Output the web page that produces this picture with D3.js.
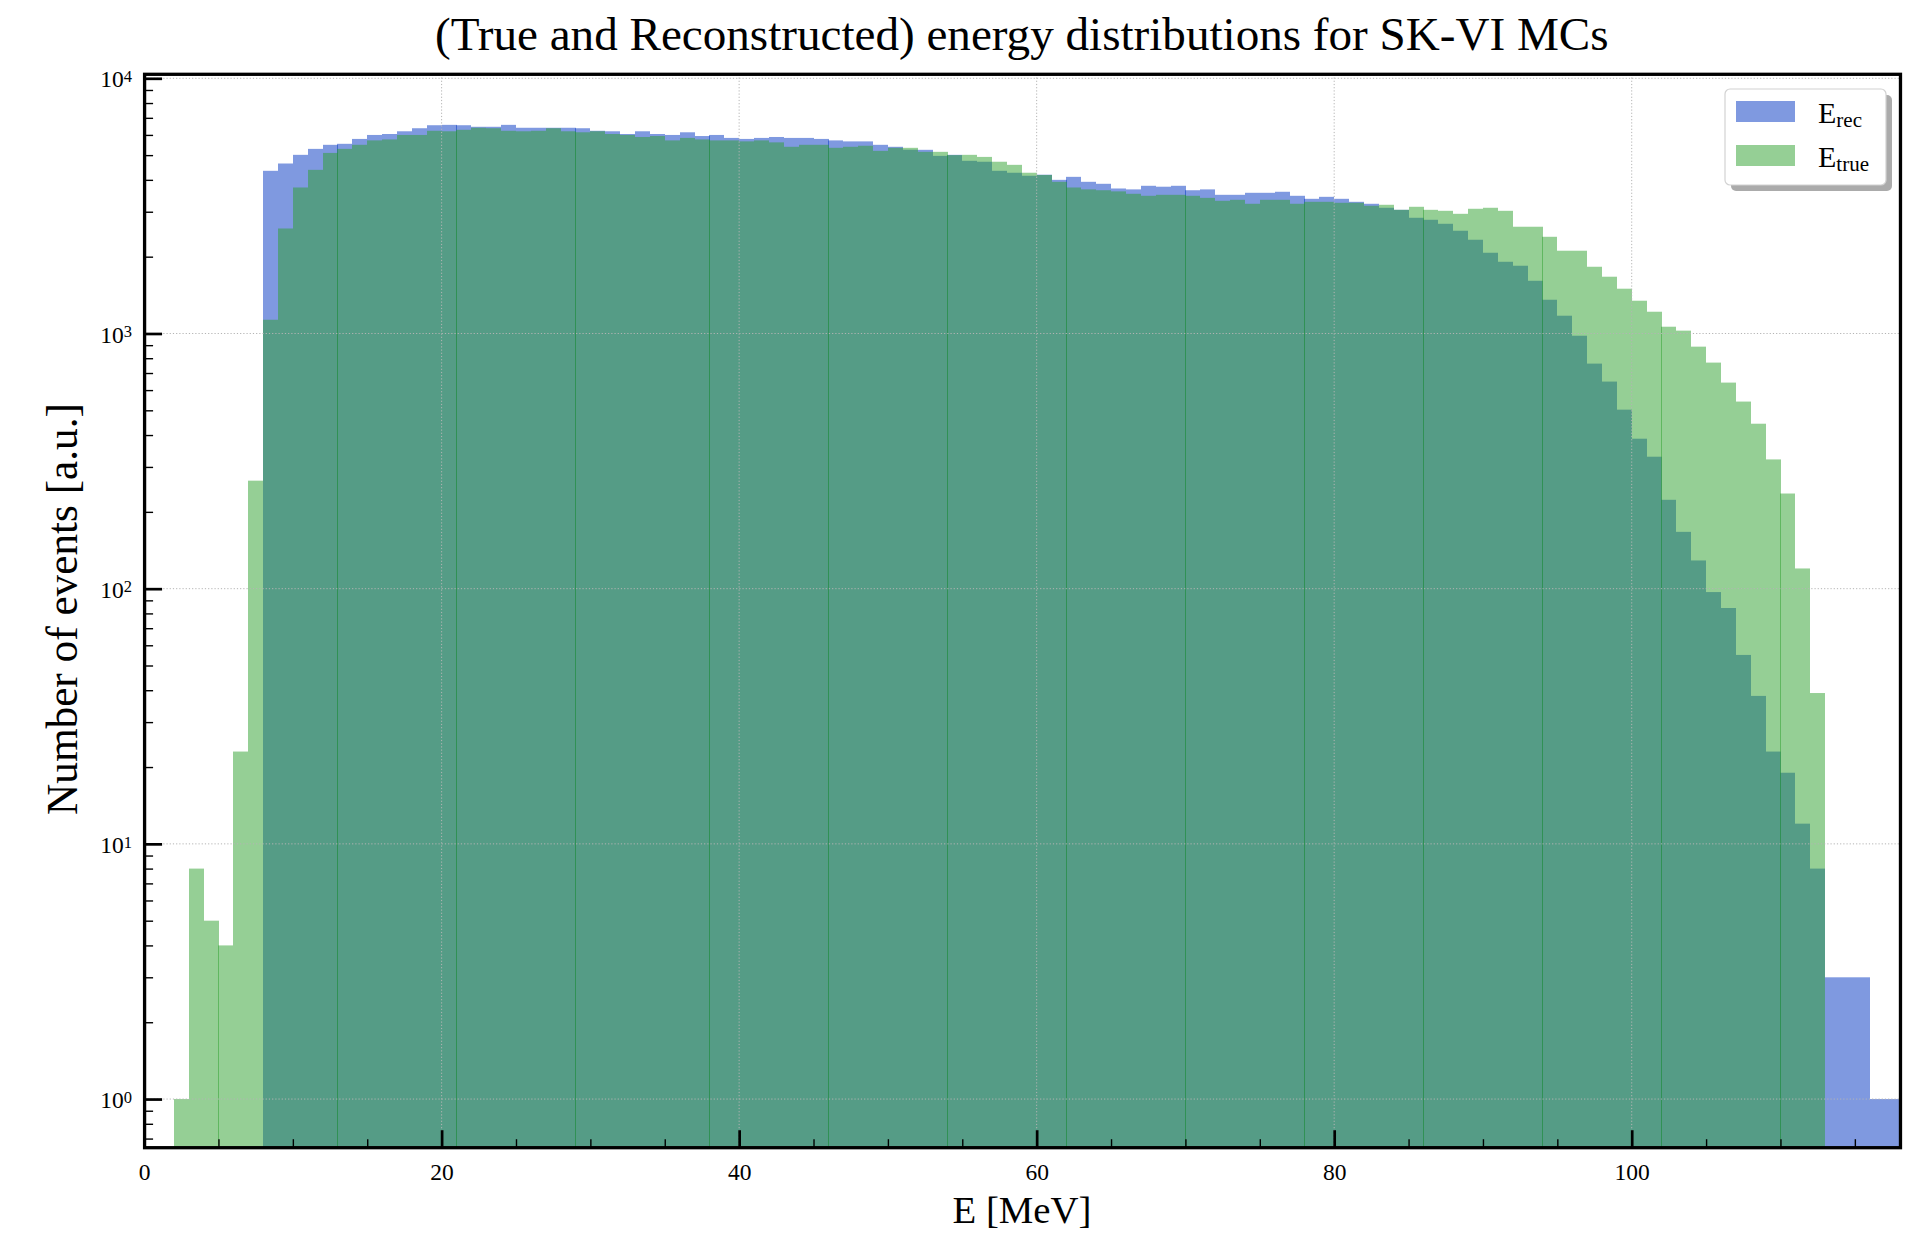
<!DOCTYPE html>
<html>
<head>
<meta charset="utf-8">
<script src="https://cdn.jsdelivr.net/npm/d3@7"></script>
<style>
  html, body { margin: 0; padding: 0; background: #ffffff; }
  svg { display: block; }
  text { font-family: "Liberation Serif", "Times New Roman", "DejaVu Serif", serif; fill: #000; }
</style>
</head>
<body>
<svg id="chart" width="1916" height="1234"></svg>
<script>
// ---- Data: event counts per 1 MeV bin ----
// E_true histogram, first bin starts at 2 MeV
const trueStart = 2;
const trueCounts = [
  1, 8, 5, 4, 23, 265,                                   // 2-7
  1132, 2579, 3733, 4378, 5100, 5290, 5487, 5710, 5760, 5998, // 8-17
  5998, 6227, 6200, 6283, 6400, 6373, 6227, 6200, 6227, 6373, // 18-27
  6200, 6144, 6200, 6050, 5998, 5889, 5940, 5710, 5840, 5760, // 28-37
  5710, 5710, 5660, 5710, 5610, 5390, 5487, 5487, 5340, 5390, // 38-47
  5440, 5196, 5340, 5340, 5150, 5150, 5000, 5013, 4920, 4710, // 48-57
  4580, 4265, 4180, 3930, 3733, 3670, 3642, 3605, 3527, 3464, // 58-67
  3495, 3495, 3464, 3400, 3311, 3341, 3223, 3341, 3341, 3223, // 68-77
  3281, 3281, 3252, 3252, 3166, 3194, 3052, 3137, 3052, 3025, // 78-87
  2944, 3081, 3109, 3025, 2620, 2620, 2393, 2110, 2110, 1826, // 88-97
  1669, 1498, 1344, 1217, 1063, 1026, 888, 769, 642, 541,     // 98-107
  443, 321, 236, 120, 39                                       // 108-112
];

// E_rec histogram, first bin starts at 8 MeV
const recStart = 8;
const recCounts = [
  4340, 4636, 5013, 5290, 5487, 5537, 5787, 5998, 6050, 6200, // 8-17
  6373, 6548, 6570, 6548, 6457, 6457, 6570, 6400, 6400, 6400, // 18-27
  6400, 6373, 6227, 6200, 6050, 6200, 6050, 5998, 6144, 5940, // 28-37
  5998, 5840, 5787, 5840, 5889, 5840, 5840, 5787, 5710, 5660, // 38-47
  5660, 5487, 5390, 5250, 5245, 4966, 5013, 4750, 4710, 4340, // 48-57
  4265, 4150, 4190, 4000, 4110, 3930, 3860, 3700, 3670, 3791, // 58-67
  3760, 3791, 3642, 3670, 3495, 3495, 3559, 3559, 3592, 3464, // 68-77
  3371, 3432, 3371, 3281, 3223, 3109, 3052, 2841, 2790, 2691, // 78-87
  2527, 2330, 2072, 1910, 1843, 1609, 1356, 1174, 980, 762,   // 88-97
  648, 503, 387, 329, 223, 167, 129, 97, 84, 55,              // 98-107
  38, 23, 19, 12, 8, 3, 3, 3, 1, 1                             // 108-117
];

const binWidth = 1;
const xDomain = [0, 118];
const yDomain = [0.6447, 10368];
const xMajorTicks = [0, 20, 40, 60, 80, 100];
const xMinorStep = 5;
const yMajorTicks = [1, 10, 100, 1000, 10000];
const yTickExponents = ["0", "1", "2", "3", "4"];

const titleText = "(True and Reconstructed) energy distributions for SK-VI MCs";
const xLabelText = "E [MeV]";
const yLabelText = "Number of events [a.u.]";
const legendEntries = [
  { base: "E", sub: "rec",  color: "rgb(0,51,194)" },
  { base: "E", sub: "true", color: "rgb(44,160,44)" }
];

// ---- Layout ----
const plot = { left: 144.085, right: 1899.48, top: 74.3, bottom: 1147.7 };
const svg = d3.select("#chart");

const x = d3.scaleLinear().domain(xDomain).range([plot.left, plot.right]);
const y = d3.scaleLog().domain(yDomain).range([plot.bottom, plot.top]);

svg.append("defs").append("clipPath").attr("id", "plotClip")
  .append("rect")
  .attr("x", plot.left).attr("y", plot.top)
  .attr("width", plot.right - plot.left).attr("height", plot.bottom - plot.top);

// ---- Histogram bars (pixel-snapped, semi-transparent) ----
function histBins(start, counts) {
  return counts.map((c, i) => ({ lo: start + i * binWidth, hi: start + (i + 1) * binWidth, c }));
}

function drawHist(start, counts, color) {
  svg.append("g").attr("clip-path", "url(#plotClip)")
    .selectAll("rect")
    .data(histBins(start, counts))
    .join("rect")
    .attr("x", d => Math.round(x(d.lo)))
    .attr("width", d => Math.round(x(d.hi) - x(d.lo)))
    .attr("y", d => y(d.c))
    .attr("height", d => plot.bottom - y(d.c))
    .attr("fill", color)
    .attr("fill-opacity", 0.5);
}

drawHist(recStart, recCounts, legendEntries[0].color);
drawHist(trueStart, trueCounts, legendEntries[1].color);

// ---- Dotted grid at major ticks ----
const grid = svg.append("g").attr("stroke", "#b4b4b4").attr("stroke-width", 1)
  .attr("stroke-dasharray", "1.2,2").attr("fill", "none");
grid.selectAll("line.gx").data(xMajorTicks.filter(v => v > xDomain[0])).join("line")
  .attr("class", "gx")
  .attr("x1", d => x(d)).attr("x2", d => x(d))
  .attr("y1", plot.top).attr("y2", plot.bottom);
grid.selectAll("line.gy").data(yMajorTicks).join("line")
  .attr("class", "gy")
  .attr("x1", plot.left).attr("x2", plot.right)
  .attr("y1", d => y(d)).attr("y2", d => y(d));

// ---- Axes: inward ticks ----
const xMinorTicks = d3.range(xDomain[0], xDomain[1] + 0.001, xMinorStep)
  .filter(v => !xMajorTicks.includes(v));

const xAxisG = svg.append("g").attr("transform", `translate(0,${plot.bottom})`)
  .call(d3.axisBottom(x).tickValues(xMajorTicks).tickSize(-17.5).tickPadding(15.3)
    .tickFormat(d3.format("d")))
  .attr("font-family", null).attr("font-size", null);
xAxisG.select(".domain").remove();
xAxisG.selectAll(".tick line").attr("stroke", "#000").attr("stroke-width", 2.7);
xAxisG.selectAll(".tick text").attr("font-size", 23.5).attr("fill", "#000");

const xMinorG = svg.append("g").attr("transform", `translate(0,${plot.bottom})`)
  .call(d3.axisBottom(x).tickValues(xMinorTicks).tickSize(-8.5).tickFormat(""));
xMinorG.select(".domain").remove();
xMinorG.selectAll(".tick line").attr("stroke", "#000").attr("stroke-width", 1.4);

const yMinorTicks = [];
for (let e = -1; e <= 4; e++) {
  for (let m = 2; m <= 9; m++) {
    const v = m * Math.pow(10, e);
    if (v > yDomain[0] && v < yDomain[1]) yMinorTicks.push(v);
  }
}

const yAxisG = svg.append("g").attr("transform", `translate(${plot.left},0)`)
  .call(d3.axisLeft(y).tickValues(yMajorTicks).tickSize(-18).tickFormat(""));
yAxisG.select(".domain").remove();
yAxisG.selectAll(".tick line").attr("stroke", "#000").attr("stroke-width", 2.7);

const yMinorG = svg.append("g").attr("transform", `translate(${plot.left},0)`)
  .call(d3.axisLeft(y).tickValues(yMinorTicks).tickSize(-9).tickFormat(""));
yMinorG.select(".domain").remove();
yMinorG.selectAll(".tick line").attr("stroke", "#000").attr("stroke-width", 1.4);

// y tick labels: 10 with superscript exponent
const yLab = svg.append("g");
yMajorTicks.forEach((v, i) => {
  const t = yLab.append("text")
    .attr("x", 132).attr("y", y(v) + 9.1)
    .attr("text-anchor", "end").attr("font-size", 23.5);
  t.append("tspan").text("10");
  t.append("tspan").attr("font-size", 16.5).attr("dy", -5.4).text(yTickExponents[i]);
});

// ---- Frame ----
svg.append("rect")
  .attr("x", plot.left + 0.5).attr("y", plot.top)
  .attr("width", plot.right - plot.left + 0.5).attr("height", plot.bottom - plot.top)
  .attr("fill", "none").attr("stroke", "#000").attr("stroke-width", 3.3);

// ---- Titles (width-fitted) ----
function fitWidth(sel, target) {
  const w = sel.node().getComputedTextLength();
  const fs = parseFloat(sel.attr("font-size"));
  sel.attr("font-size", fs * target / w);
}

const title = svg.append("text")
  .attr("x", (plot.left + plot.right) / 2).attr("y", 50)
  .attr("text-anchor", "middle").attr("font-size", 40).text(titleText);
fitWidth(title, 1174);

const xLabel = svg.append("text")
  .attr("x", 1022).attr("y", 1223)
  .attr("text-anchor", "middle").attr("font-size", 38).text(xLabelText);
fitWidth(xLabel, 139);

const yLabel = svg.append("text")
  .attr("transform", `translate(76.7,${(plot.top + plot.bottom) / 2 - 2}) rotate(-90)`)
  .attr("text-anchor", "middle").attr("font-size", 38).text(yLabelText);
fitWidth(yLabel, 412);

// ---- Legend ----
const legend = svg.append("g");
const lb = { x: 1725, y: 89, w: 161, h: 96 };
legend.append("rect")
  .attr("x", lb.x + 6).attr("y", lb.y + 6).attr("width", lb.w).attr("height", lb.h)
  .attr("rx", 5).attr("fill", "#ababab");
legend.append("rect")
  .attr("x", lb.x).attr("y", lb.y).attr("width", lb.w).attr("height", lb.h)
  .attr("rx", 5).attr("fill", "#fff").attr("stroke", "#d2d2d2").attr("stroke-width", 1.2);

legendEntries.forEach((d, i) => {
  const rowY = lb.y + 12 + i * 44;
  legend.append("rect")
    .attr("x", 1736).attr("y", rowY).attr("width", 59).attr("height", 21)
    .attr("fill", d.color).attr("fill-opacity", 0.5);
  const t = legend.append("text")
    .attr("x", 1818).attr("y", rowY + 21.5).attr("font-size", 30);
  t.append("tspan").text(d.base);
  t.append("tspan").attr("font-size", 21).attr("dy", 4).text(d.sub);
});
</script>
</body>
</html>
